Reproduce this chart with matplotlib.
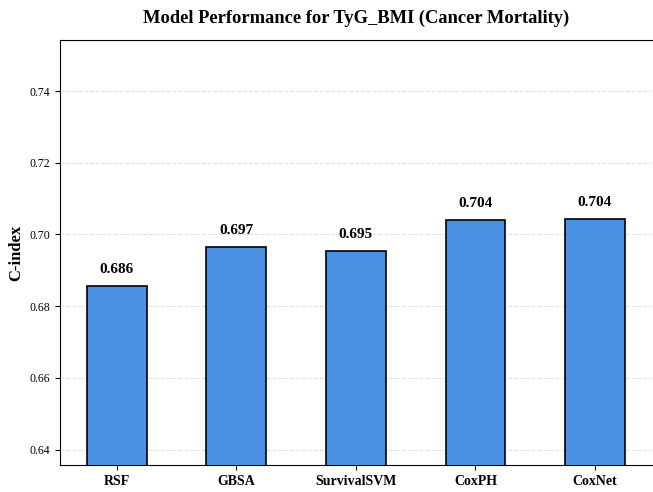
import matplotlib.pyplot as plt

plt.rcParams['font.family'] = ['Liberation Serif', 'DejaVu Serif']

models = ['RSF', 'GBSA', 'SurvivalSVM', 'CoxPH', 'CoxNet']
cindex = [0.6857, 0.6965, 0.6954, 0.7041, 0.7043]

fig = plt.figure(figsize=(6.53, 4.92), dpi=100)
ax = fig.add_axes([0.092, 0.055, 0.906, 0.864])

bars = ax.bar(models, cindex, width=0.5, color='#4A90E2', edgecolor='black', linewidth=1.2, zorder=3)
for b, v in zip(bars, cindex):
    ax.text(b.get_x() + b.get_width() / 2, v + 0.0028, f'{v:.3f}',
            ha='center', va='bottom', fontsize=11, fontweight='bold')

ax.set_ylim(min(cindex) - 0.05, max(cindex) + 0.05)
ax.set_ylabel('C-index', fontsize=12, fontweight='bold')
ax.set_title('Model Performance for TyG_BMI (Cancer Mortality)', fontsize=13.3, fontweight='bold', pad=12)
ax.grid(axis='y', linestyle='--', alpha=0.6, color='#cccccc', zorder=0)
ax.spines['right'].set_visible(False)
ax.tick_params(axis='y', labelsize=8.5)
for lbl in ax.get_xticklabels():
    lbl.set_fontweight('bold')
    lbl.set_fontsize(10)

plt.savefig('out.png', dpi=100)
